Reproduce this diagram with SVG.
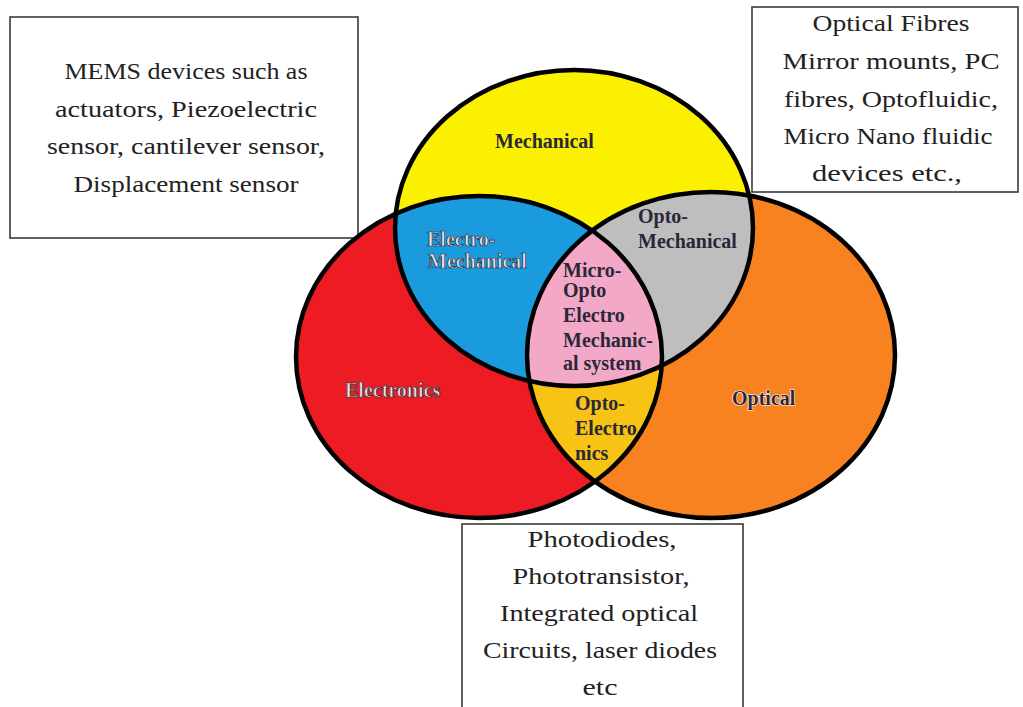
<svg xmlns="http://www.w3.org/2000/svg" width="1023" height="707" viewBox="0 0 1023 707">
<style>
.box{fill:#fff;stroke:#3a3a3a;stroke-width:1.6}
.bt{font-family:"Liberation Serif","Times New Roman","DejaVu Serif",serif;font-weight:normal;font-size:24px;fill:#222;text-anchor:middle}
.lbl{font-family:"Liberation Serif",serif;font-size:20px;font-weight:bold;fill:#2a2838}
.lt{font-family:"Liberation Serif",serif;font-size:20px;font-weight:bold;fill:#e6e6ee;stroke:#2a2a35;stroke-width:0.7}
.halo{paint-order:stroke;stroke:#fff;stroke-width:1.2}
.out{fill:none;stroke:#000;stroke-width:4.5}
</style>
<defs>
<clipPath id="cY"><ellipse cx="574" cy="228" rx="179" ry="158"/></clipPath>
<clipPath id="cR"><ellipse cx="479" cy="357" rx="183" ry="161"/></clipPath>
</defs>
<rect width="1023" height="707" fill="#fff"/>
<g id="box-mems">
<rect class="box" x="10" y="17" width="348" height="221"/>
<text class="bt" x="186" y="79" textLength="243" lengthAdjust="spacingAndGlyphs">MEMS devices such as</text>
<text class="bt" x="186" y="117" textLength="262" lengthAdjust="spacingAndGlyphs">actuators, Piezoelectric</text>
<text class="bt" x="186" y="154" textLength="278" lengthAdjust="spacingAndGlyphs">sensor, cantilever sensor,</text>
<text class="bt" x="186" y="192" textLength="225" lengthAdjust="spacingAndGlyphs">Displacement sensor</text>
</g>
<g id="box-optical">
<rect class="box" x="752" y="7" width="266" height="185"/>
<text class="bt" x="891" y="31" textLength="157" lengthAdjust="spacingAndGlyphs">Optical Fibres</text>
<text class="bt" x="891" y="69" textLength="217" lengthAdjust="spacingAndGlyphs">Mirror mounts, PC</text>
<text class="bt" x="891" y="107" textLength="214" lengthAdjust="spacingAndGlyphs">fibres, Optofluidic,</text>
<text class="bt" x="888" y="144" textLength="209" lengthAdjust="spacingAndGlyphs">Micro Nano fluidic</text>
<text class="bt" x="887" y="181" textLength="150" lengthAdjust="spacingAndGlyphs">devices  etc.,</text>
</g>
<g id="box-opto-electronics">
<rect class="box" x="462" y="524" width="281" height="200"/>
<text class="bt" x="602" y="547" textLength="149" lengthAdjust="spacingAndGlyphs">Photodiodes,</text>
<text class="bt" x="601" y="584" textLength="177" lengthAdjust="spacingAndGlyphs">Phototransistor,</text>
<text class="bt" x="599" y="621" textLength="198" lengthAdjust="spacingAndGlyphs">Integrated optical</text>
<text class="bt" x="600" y="658" textLength="234" lengthAdjust="spacingAndGlyphs">Circuits, laser diodes</text>
<text class="bt" x="600" y="695" textLength="35" lengthAdjust="spacingAndGlyphs">etc</text>
</g>
<g id="electronics">
<ellipse cx="479" cy="357" rx="183" ry="161" fill="#ED1C24"/>
</g>
<g id="optical">
<ellipse cx="711" cy="355" rx="184" ry="163" fill="#F7821F"/>
</g>
<g id="mechanical">
<ellipse cx="574" cy="228" rx="179" ry="158" fill="#FAF000"/>
</g>
<g id="opto-electronics">
<ellipse cx="711" cy="355" rx="184" ry="163" fill="#F7C315" clip-path="url(#cR)"/>
</g>
<g id="electro-mechanical">
<ellipse cx="479" cy="357" rx="183" ry="161" fill="#1A9BDE" clip-path="url(#cY)"/>
</g>
<g id="opto-mechanical">
<ellipse cx="711" cy="355" rx="184" ry="163" fill="#BEBEBE" clip-path="url(#cY)"/>
</g>
<g id="moems">
<g clip-path="url(#cY)"><ellipse cx="711" cy="355" rx="184" ry="163" fill="#F4A8C8" clip-path="url(#cR)"/></g>
</g>
<g id="labels">
<text class="lbl" x="495" y="148">Mechanical</text>
<text class="lt" x="427" y="246" font-size="19">Electro-</text>
<text class="lt" x="428" y="268" font-size="19">Mechanical</text>
<text class="lbl" x="563" y="277">Micro-</text>
<text class="lbl" x="563" y="297">Opto</text>
<text class="lbl" x="563" y="322">Electro</text>
<text class="lbl" x="563" y="347">Mechanic-</text>
<text class="lbl" x="563" y="370">al system</text>
<text class="lbl" x="638" y="223">Opto-</text>
<text class="lbl" x="638" y="248">Mechanical</text>
<text class="lt" x="345" y="397">Electronics</text>
<text class="lbl" x="575" y="410">Opto-</text>
<text class="lbl" x="575" y="435">Electro</text>
<text class="lbl" x="575" y="460">nics</text>
<text class="lbl halo" x="732" y="405">Optical</text>
</g>
<g id="outlines">
<ellipse class="out" cx="574" cy="228" rx="179" ry="158"/>
<ellipse class="out" cx="479" cy="357" rx="183" ry="161"/>
<ellipse class="out" cx="711" cy="355" rx="184" ry="163"/>
</g>
</svg>
